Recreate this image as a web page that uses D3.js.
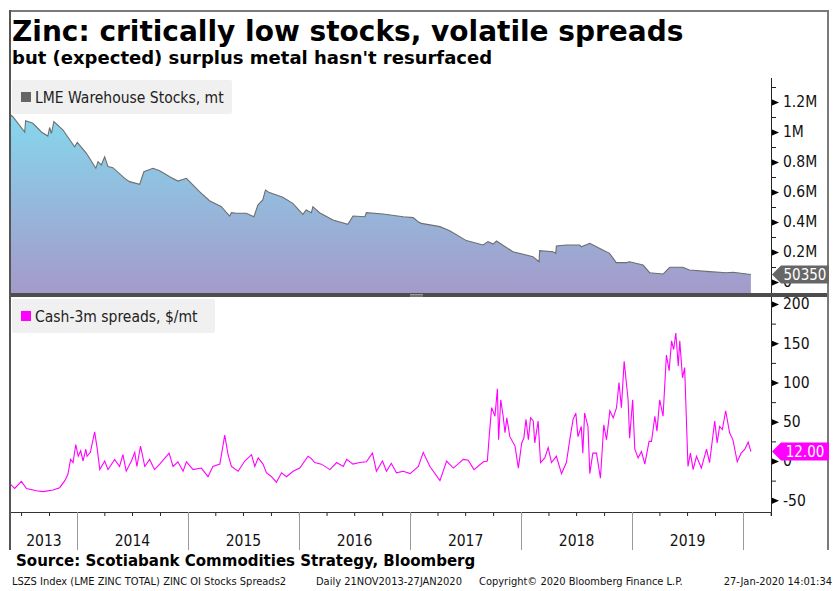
<!DOCTYPE html>
<html>
<head>
<meta charset="utf-8">
<script src="https://cdn.jsdelivr.net/npm/d3@7"></script>
<style>
  body { margin: 0; background: #fff; }
  text { font-family: "DejaVu Sans Condensed", "DejaVu Sans", sans-serif; font-stretch: condensed; }
</style>
</head>
<body>
<script>
(function(){

  // LME warehouse stocks, mt
  var stockDates = ['2013-05-28','2013-06-04','2013-07-13','2013-07-16','2013-08-09','2013-09-06','2013-09-27','2013-10-03','2013-10-09','2013-10-17',
    '2013-11-16','2013-12-24','2014-01-02','2014-02-01','2014-03-04','2014-03-11','2014-03-22','2014-04-02','2014-04-13','2014-04-29',
    '2014-06-07','2014-06-23','2014-07-26','2014-08-09','2014-09-08','2014-09-30','2014-11-02','2014-11-29','2014-12-27','2015-02-08',
    '2015-03-13','2015-04-21','2015-05-18','2015-05-24','2015-06-09','2015-07-12','2015-08-06','2015-08-19','2015-09-04','2015-09-13',
    '2015-09-26','2015-11-09','2015-12-12','2016-01-14','2016-01-25','2016-02-11','2016-02-16','2016-03-09','2016-04-22','2016-06-10',
    '2016-06-27','2016-08-05','2016-08-10','2016-10-04','2016-12-09','2017-01-11','2017-01-27','2017-02-07','2017-04-09','2017-05-11',
    '2017-07-05','2017-08-29','2017-09-14','2017-10-01','2017-10-12','2017-12-05','2018-01-08','2018-02-09','2018-03-01','2018-03-03',
    '2018-04-16','2018-04-25','2018-04-27','2018-05-30','2018-07-13','2018-07-18','2018-08-15','2018-09-17','2018-10-19','2018-11-10',
    '2018-12-13','2018-12-24','2019-02-06','2019-02-28','2019-04-13','2019-05-05','2019-06-17','2019-07-09','2019-09-13','2019-11-07',
    '2019-11-29','2020-01-27'];
  var stockValues = [1113000,1102000,1000000,1075000,1058000,1000000,973000,1030000,990000,1069000,
    1013000,902000,931000,858000,758000,802000,780000,835000,769000,762000,
    691000,669000,651000,735000,758000,742000,702000,673000,691000,602000,
    542000,502000,440000,462000,458000,458000,435000,513000,547000,613000,
    596000,565000,524000,451000,480000,462000,502000,462000,413000,385000,
    440000,435000,462000,453000,435000,429000,402000,391000,369000,342000,
    276000,247000,269000,253000,273000,202000,185000,169000,135000,209000,
    202000,191000,240000,247000,247000,235000,258000,224000,191000,129000,
    129000,135000,113000,62000,53000,98000,98000,80000,69000,62000,
    65000,50350];

  // Cash-3m spreads, $/mt
  var spreadDates = ['2013-05-28','2013-06-10','2013-07-02','2013-07-19','2013-08-21','2013-09-11','2013-10-14','2013-11-05','2013-11-22','2013-12-02',
    '2013-12-11','2013-12-19','2013-12-28','2014-01-05','2014-01-13','2014-01-21','2014-01-30','2014-02-03','2014-02-14','2014-02-28',
    '2014-03-08','2014-03-17','2014-04-02','2014-04-13','2014-05-05','2014-05-21','2014-06-01','2014-06-12','2014-06-29','2014-07-10',
    '2014-07-17','2014-07-29','2014-08-12','2014-08-28','2014-09-13','2014-09-30','2014-10-31','2014-11-13','2014-11-29','2014-12-16',
    '2014-12-27','2015-01-18','2015-02-14','2015-03-08','2015-03-24','2015-04-16','2015-05-02','2015-05-13','2015-05-24','2015-06-15',
    '2015-07-07','2015-07-29','2015-08-09','2015-08-20','2015-09-05','2015-09-16','2015-10-03','2015-10-19','2015-11-05','2015-11-21',
    '2015-12-13','2016-01-04','2016-01-31','2016-02-11','2016-02-22','2016-03-15','2016-04-12','2016-05-04','2016-05-26','2016-06-06',
    '2016-06-27','2016-07-19','2016-08-10','2016-08-30','2016-09-12','2016-10-02','2016-10-15','2016-10-31','2016-11-17','2016-12-09',
    '2017-01-01','2017-01-28','2017-02-13','2017-03-07','2017-04-09','2017-05-01','2017-05-23','2017-06-25','2017-07-11','2017-07-30',
    '2017-08-30','2017-09-12','2017-09-18','2017-09-26','2017-10-07','2017-10-15','2017-10-19','2017-10-26','2017-11-03','2017-11-09',
    '2017-11-15','2017-11-25','2017-12-12','2017-12-23','2018-01-03','2018-01-10','2018-01-17','2018-01-25','2018-02-01','2018-02-10',
    '2018-02-15','2018-02-26','2018-03-06','2018-03-20','2018-03-31','2018-04-11','2018-04-27','2018-05-14','2018-05-30','2018-06-10',
    '2018-06-21','2018-06-30','2018-07-07','2018-07-18','2018-07-23','2018-07-29','2018-08-09','2018-08-15','2018-08-25','2018-09-06',
    '2018-09-19','2018-09-30','2018-10-09','2018-10-20','2018-10-31','2018-11-11','2018-11-19','2018-11-27','2018-12-06','2018-12-19',
    '2018-12-24','2019-01-03','2019-01-10','2019-01-21','2019-02-01','2019-02-12','2019-02-26','2019-03-06','2019-03-17','2019-03-24',
    '2019-04-02','2019-04-13','2019-04-24','2019-05-03','2019-05-11','2019-05-18','2019-05-25','2019-06-02','2019-06-07','2019-06-16',
    '2019-06-23','2019-07-04','2019-07-12','2019-07-21','2019-08-01','2019-08-17','2019-09-03','2019-09-13','2019-09-30','2019-10-08',
    '2019-10-16','2019-10-25','2019-11-05','2019-11-18','2019-11-29','2019-12-13','2019-12-26','2020-01-07','2020-01-18','2020-01-27'];
  var spreadValues = [-30,-35,-26,-35,-38,-39,-37,-34,-25,-17,
    2,-2,21,6,13,0,15,6,11,37,
    17,-11,0,-11,2,-7,8,-13,0,11,
    -7,19,-7,2,-11,-4,10,-7,-1,-13,
    -1,-11,-9,-20,-7,-4,33,8,-7,-13,
    0,8,-7,4,-4,-15,-20,-27,-15,-20,
    -13,-9,6,3,-2,-4,-11,-2,-7,2,
    -4,-2,-1,10,-13,0,-13,-3,-15,-13,
    -16,-7,11,-7,-25,0,-9,2,1,-11,
    -1,0,31,68,57,92,27,78,57,36,
    55,31,19,-9,23,29,53,27,55,51,
    23,51,-2,4,17,-2,6,-16,-2,27,
    53,61,31,44,10,61,44,-16,10,10,
    -22,46,27,64,55,68,100,68,127,78,
    29,78,15,4,12,-4,25,25,57,38,
    78,57,135,115,153,142,163,121,153,106,
    119,-7,10,-11,6,-9,15,-2,51,23,
    44,40,64,36,27,-1,10,15,24,12];

  var stockTicks = [0, 200000, 400000, 600000, 800000, 1000000, 1200000];
  var stockTickLabels = ['0', '0.2M', '0.4M', '0.6M', '0.8M', '1M', '1.2M'];
  var stockMinor = [100000, 300000, 500000, 700000, 900000, 1100000, 1300000];
  var spreadTicks = [-50, 0, 50, 100, 150, 200];
  var spreadMinor = [-25, 25, 75, 125, 175];
  var years = [2013, 2014, 2015, 2016, 2017, 2018, 2019, 2020];

  var W = 837, H = 591;
  var LEFT = 11, RIGHT = 771;
  var TOP1 = 78, BOT1 = 293, TOP2 = 297, BOT2 = 512;

  var parse = d3.utcParse('%Y-%m-%d');
  var stocks = stockDates.map(function (d, i) { return { date: parse(d), value: stockValues[i] } });
  var spreads = spreadDates.map(function (d, i) { return { date: parse(d), value: spreadValues[i] } });

  var x = d3.scaleUtc()
    .domain([new Date(Date.UTC(2014, 0, 1)), new Date(Date.UTC(2020, 0, 1))])
    .range([77, 743]);
  var xStart = x.invert(LEFT), xEnd = x.invert(RIGHT);

  var yStock = d3.scaleLinear().domain([0, 1200000]).range([282, 102]);
  var ySpread = d3.scaleLinear().domain([0, 200]).range([461, 304]);

  var svg = d3.select('body').append('svg')
    .attr('width', W)
    .attr('height', H);

  var defs = svg.append('defs');
  var grad = defs.append('linearGradient')
    .attr('id', 'stockFill')
    .attr('gradientUnits', 'userSpaceOnUse')
    .attr('x1', 0).attr('y1', TOP1).attr('x2', 0).attr('y2', BOT1);
  grad.append('stop').attr('offset', 0).attr('stop-color', '#7fe3f4');
  grad.append('stop').attr('offset', 1).attr('stop-color', '#a49aca');

  defs.append('clipPath').attr('id', 'clip1')
    .append('rect').attr('x', LEFT).attr('y', TOP1).attr('width', RIGHT - LEFT).attr('height', BOT1 - TOP1);
  defs.append('clipPath').attr('id', 'clip2')
    .append('rect').attr('x', LEFT).attr('y', TOP2).attr('width', RIGHT - LEFT).attr('height', BOT2 - TOP2);

  // title
  svg.append('text')
    .attr('x', 12).attr('y', 41)
    .style('font-family', '"DejaVu Sans", sans-serif')
    .style('font-stretch', 'normal')
    .style('font-weight', 'bold')
    .style('font-size', '28px')
    .attr('fill', '#000')
    .text('Zinc: critically low stocks, volatile spreads');
  svg.append('text')
    .attr('x', 12).attr('y', 64)
    .style('font-family', '"DejaVu Sans", sans-serif')
    .style('font-stretch', 'normal')
    .style('font-weight', 'bold')
    .style('font-size', '18px')
    .attr('fill', '#000')
    .text("but (expected) surplus metal hasn't resurfaced");

  // stocks area
  var area = d3.area()
    .x(function (d) { return x(d.date) })
    .y0(BOT1)
    .y1(function (d) { return yStock(d.value) });
  var stockLine = d3.line()
    .x(function (d) { return x(d.date) })
    .y(function (d) { return yStock(d.value) });

  var g1 = svg.append('g').attr('clip-path', 'url(#clip1)');
  g1.append('path').datum(stocks)
    .attr('d', area)
    .attr('fill', 'url(#stockFill)');
  g1.append('path').datum(stocks)
    .attr('d', stockLine)
    .attr('fill', 'none')
    .attr('stroke', '#6e6e6e')
    .attr('stroke-width', 1.1);

  // spreads line
  var spreadLine = d3.line()
    .x(function (d) { return x(d.date) })
    .y(function (d) { return ySpread(d.value) });
  svg.append('g').attr('clip-path', 'url(#clip2)')
    .append('path').datum(spreads)
    .attr('d', spreadLine)
    .attr('fill', 'none')
    .attr('stroke', '#ff00ff')
    .attr('stroke-width', 1.1);

  // legends
  function legend(y0, w, color, label) {
    var g = svg.append('g');
    g.append('rect').attr('x', 12).attr('y', y0).attr('width', w).attr('height', 34)
      .attr('rx', 2).attr('fill', '#f0f0f0');
    g.append('rect').attr('x', 21).attr('y', y0 + 12).attr('width', 10).attr('height', 10)
      .attr('fill', color);
    g.append('text').attr('x', 35).attr('y', y0 + 23)
      .style('font-size', '15.5px')
      .attr('fill', '#222')
      .text(label);
  }
  legend(80, 220, '#666666', 'LME Warehouse Stocks, mt');
  legend(299, 203, '#ff00ff', 'Cash-3m spreads, $/mt');

  // right axes
  function rightAxis(scale, majors, minors, fmt) {
    var gMinor = svg.append('g')
      .attr('transform', 'translate(' + RIGHT + ',0)')
      .call(d3.axisRight(scale).tickValues(minors).tickSize(5).tickFormat(''));
    gMinor.select('.domain').remove();
    gMinor.selectAll('line').attr('stroke', '#222');

    var gMajor = svg.append('g')
      .attr('transform', 'translate(' + RIGHT + ',0)')
      .call(d3.axisRight(scale).tickValues(majors).tickSize(0).tickPadding(12).tickFormat(fmt));
    gMajor.select('.domain').remove();
    gMajor.selectAll('.tick text')
      .attr('fill', '#111')
      .style('font-size', '15.5px');
    gMajor.selectAll('.tick').append('path')
      .attr('d', 'M0,-3.5L8,0L0,3.5Z')
      .attr('fill', '#000');
  }
  rightAxis(yStock, stockTicks, stockMinor, function (d, i) { return stockTickLabels[i] });
  rightAxis(ySpread, spreadTicks, spreadMinor, function (d) { return d });
  svg.selectAll('.tick text').attr('font-family', null).attr('font-size', null);

  svg.append('line')
    .attr('x1', RIGHT + 0.5).attr('x2', RIGHT + 0.5)
    .attr('y1', TOP1).attr('y2', BOT2 + 4)
    .attr('stroke', '#222');

  // x axis
  var gx = svg.append('g')
    .attr('transform', 'translate(0,' + BOT2 + ')')
    .call(d3.axisBottom(x).tickValues(d3.utcMonth.every(3).range(xStart, xEnd)).tickSize(4).tickFormat(''));
  gx.select('.domain').remove();
  gx.selectAll('line').attr('stroke', '#222');

  svg.append('line')
    .attr('x1', 10).attr('x2', RIGHT + 1)
    .attr('y1', BOT2 + 0.5).attr('y2', BOT2 + 0.5)
    .attr('stroke', '#333');

  var yearStarts = years.map(function (y) { return new Date(Date.UTC(y, 0, 1)) });
  svg.append('g').selectAll('line')
    .data(yearStarts.filter(function (d) { return x(d) > LEFT }))
    .join('line')
    .attr('x1', function (d) { return Math.round(x(d)) + 0.5 })
    .attr('x2', function (d) { return Math.round(x(d)) + 0.5 })
    .attr('y1', BOT2)
    .attr('y2', 550)
    .attr('stroke', '#9a9a9a');

  svg.append('g').selectAll('text')
    .data(years.filter(function (y) {
      var a = Math.max(LEFT, x(new Date(Date.UTC(y, 0, 1))));
      var b = Math.min(RIGHT, x(new Date(Date.UTC(y + 1, 0, 1))));
      return b - a > 45;
    }))
    .join('text')
    .attr('x', function (y) {
      var a = Math.max(LEFT, x(new Date(Date.UTC(y, 0, 1))));
      var b = Math.min(RIGHT, x(new Date(Date.UTC(y + 1, 0, 1))));
      return (a + b) / 2;
    })
    .attr('y', 546)
    .attr('text-anchor', 'middle')
    .style('font-size', '15.5px')
    .attr('fill', '#111')
    .text(function (y) { return y });

  // panel separator + frame
  svg.append('rect').attr('x', 10).attr('y', BOT1).attr('width', 818).attr('height', TOP2 - BOT1).attr('fill', '#4d4d4d');
  svg.append('line').attr('x1', 410).attr('x2', 423).attr('y1', 294.5).attr('y2', 294.5).attr('stroke', '#9a9a9a');
  svg.append('line').attr('x1', 410).attr('x2', 423).attr('y1', 296).attr('y2', 296).attr('stroke', '#9a9a9a');
  svg.append('line').attr('x1', 10).attr('x2', 829).attr('y1', 11).attr('y2', 11).attr('stroke', '#7a7a7a').attr('stroke-width', 2);
  svg.append('line').attr('x1', 10).attr('x2', 10).attr('y1', 10).attr('y2', 550).attr('stroke', '#555').attr('stroke-width', 2);
  svg.append('line').attr('x1', 828).attr('x2', 828).attr('y1', 10).attr('y2', 550).attr('stroke', '#7a7a7a').attr('stroke-width', 2);

  // last value tags
  function lastTag(yPos, fill, label) {
    var g = svg.append('g').attr('transform', 'translate(0,' + yPos + ')');
    g.append('path')
      .attr('d', 'M' + (RIGHT + 1) + ',0L' + (RIGHT + 10) + ',-9L829,-9L829,9L' + (RIGHT + 10) + ',9Z')
      .attr('fill', fill);
    g.append('text')
      .attr('x', 805).attr('y', 0)
      .attr('dy', '0.36em')
      .attr('text-anchor', 'middle')
      .style('font-size', '15px')
      .attr('fill', '#fff')
      .text(label);
  }
  var lastStock = stocks[stocks.length - 1];
  var lastSpread = spreads[spreads.length - 1];
  lastTag(yStock(lastStock.value), '#666666', d3.format('d')(lastStock.value));
  lastTag(ySpread(lastSpread.value), '#ff00ff', d3.format('.2f')(lastSpread.value));

  // source + footer
  svg.append('text')
    .attr('x', 16).attr('y', 566)
    .style('font-weight', 'bold')
    .style('font-size', '16.7px')
    .attr('fill', '#000')
    .text('Source: Scotiabank Commodities Strategy, Bloomberg');

  var foot = svg.append('g').attr('fill', '#111');
  foot.append('text').attr('x', 12).attr('y', 585).style('font-size', '11px').text('LSZS Index (LME ZINC TOTAL) ZINC OI Stocks Spreads2');
  foot.append('text').attr('x', 316).attr('y', 585).style('font-size', '11px').text('Daily 21NOV2013-27JAN2020');
  foot.append('text').attr('x', 479).attr('y', 585).style('font-size', '11px').text('Copyright\u00A9 2020 Bloomberg Finance L.P.');
  foot.append('text').attr('x', 832).attr('y', 585).attr('text-anchor', 'end').style('font-size', '11px').text('27-Jan-2020 14:01:34');

})()
</script>
</body>
</html>
